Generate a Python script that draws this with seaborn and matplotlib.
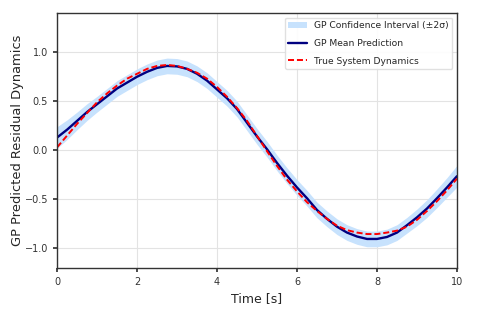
import numpy as np
import matplotlib
matplotlib.use("Agg")
import matplotlib.pyplot as plt
import seaborn as sns

# time samples [s]
time = [0.0, 0.25, 0.5, 0.75, 1.0, 1.25, 1.5, 1.75, 2.0, 2.25,
        2.5, 2.75, 3.0, 3.25, 3.5, 3.75, 4.0, 4.25, 4.5, 4.75,
        5.0, 5.25, 5.5, 5.75, 6.0, 6.25, 6.5, 6.75, 7.0, 7.25,
        7.5, 7.75, 8.0, 8.25, 8.5, 8.75, 9.0, 9.25, 9.5, 9.75, 10.0]

# GP posterior mean
gp_mean = [0.13, 0.21, 0.30, 0.39, 0.47, 0.55, 0.63, 0.69, 0.75, 0.80,
           0.84, 0.86, 0.855, 0.83, 0.78, 0.71, 0.62, 0.53, 0.42, 0.28,
           0.14, 0.01, -0.13, -0.26, -0.38, -0.49, -0.61, -0.70, -0.78, -0.84,
           -0.88, -0.905, -0.905, -0.885, -0.84, -0.765, -0.685, -0.595, -0.49, -0.38, -0.265]

# true residual dynamics
true_dyn = [0.03, 0.15, 0.27, 0.38, 0.49, 0.58, 0.66, 0.73, 0.78, 0.83,
            0.86, 0.87, 0.86, 0.83, 0.79, 0.73, 0.645, 0.545, 0.43, 0.30,
            0.145, -0.01, -0.16, -0.30, -0.42, -0.53, -0.62, -0.70, -0.77, -0.815,
            -0.84, -0.855, -0.855, -0.84, -0.82, -0.78, -0.71, -0.62, -0.52, -0.41, -0.29]

# half width of the 2-sigma band
two_sigma = [0.11, 0.10, 0.09, 0.085, 0.08, 0.08, 0.08, 0.08, 0.08, 0.08,
             0.08, 0.08, 0.08, 0.08, 0.08, 0.08, 0.08, 0.08, 0.08, 0.08,
             0.08, 0.08, 0.08, 0.08, 0.08, 0.08, 0.08, 0.08, 0.08, 0.08,
             0.08, 0.08, 0.08, 0.08, 0.08, 0.08, 0.085, 0.09, 0.095, 0.10, 0.11]

sns.set_theme(style="whitegrid", rc={
    "axes.edgecolor": "#333333",
    "axes.linewidth": 1.0,
    "grid.color": "#e3e3e3",
    "grid.linewidth": 0.8,
    "xtick.bottom": True,
    "ytick.left": True,
    "xtick.color": "#333333",
    "ytick.color": "#333333",
    "xtick.major.size": 3,
    "ytick.major.size": 3,
    "xtick.labelsize": 7,
    "ytick.labelsize": 7,
})
plt.rcParams["font.family"] = ["DejaVu Sans"]

fig, ax = plt.subplots(figsize=(4.8, 3.17), dpi=100)
fig.subplots_adjust(left=0.119, right=0.952, top=0.959, bottom=0.155)

t = np.array(time)
m = np.array(gp_mean)
s = np.array(two_sigma)

ax.fill_between(t, m - s, m + s, color="#c7e2fd", linewidth=0,
                label="GP Confidence Interval (±2σ)")
sns.lineplot(x=t, y=m, ax=ax, color="navy", linewidth=1.7,
             label="GP Mean Prediction")
sns.lineplot(x=t, y=np.array(true_dyn), ax=ax, color="red", linewidth=1.4,
             dashes=False, label="True System Dynamics")
ax.lines[-1].set_dashes((3.1, 1.5))

ax.set_xlim(0, 10)
ax.set_ylim(-1.2, 1.4)
ax.set_yticks([-1.0, -0.5, 0.0, 0.5, 1.0])
ax.set_xlabel("Time [s]", fontsize=9)
ax.set_ylabel("GP Predicted Residual Dynamics", fontsize=9.4)
ax.yaxis.set_label_coords(-0.083, 0.5)
ax.legend(loc="upper right", fontsize=6.6, frameon=True, framealpha=0.9,
          edgecolor="#dddddd", fancybox=True, labelspacing=0.95)

fig.savefig("out.png", dpi=100)
